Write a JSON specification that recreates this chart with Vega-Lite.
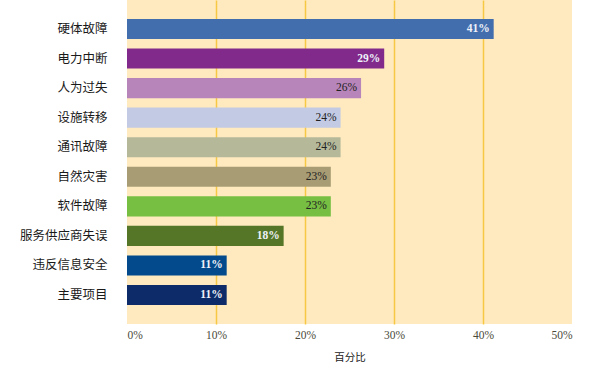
{
  "$schema": "https://vega.github.io/schema/vega-lite/v6.json",
  "width": 445,
  "height": 324,
  "autosize": {"type": "none"},
  "padding": {"left": 127, "top": 0, "right": 33, "bottom": 41},
  "background": "white",
  "config": {
    "view": {"fill": "#FFEABF", "stroke": null},
    "font": "Noto Sans CJK SC"
  },
  "data": {
    "values": [
      {"cause": "硬体故障", "pct": 0.412},
      {"cause": "电力中断", "pct": 0.289},
      {"cause": "人为过失", "pct": 0.263},
      {"cause": "设施转移", "pct": 0.240},
      {"cause": "通讯故障", "pct": 0.240},
      {"cause": "自然灾害", "pct": 0.229},
      {"cause": "软件故障", "pct": 0.229},
      {"cause": "服务供应商失误", "pct": 0.176},
      {"cause": "违反信息安全", "pct": 0.112},
      {"cause": "主要项目", "pct": 0.112}
    ]
  },
  "encoding": {
    "y": {
      "field": "cause",
      "type": "nominal",
      "sort": null,
      "scale": {"paddingInner": 0.32, "paddingOuter": 0.64},
      "axis": {
        "title": null,
        "domain": false,
        "ticks": false,
        "labelPadding": 20,
        "labelFontSize": 12.5,
        "labelFontWeight": "normal",
        "labelColor": "#1a1a1a",
        "labelFont": "Noto Sans CJK SC"
      }
    },
    "x": {
      "field": "pct",
      "type": "quantitative",
      "scale": {"domain": [0, 0.5], "nice": false},
      "axis": {
        "title": "百分比",
        "titleFontSize": 10.5,
        "titleFontWeight": "normal",
        "titleColor": "#1a1a1a",
        "titlePadding": 12,
        "format": ".0%",
        "values": [0, 0.1, 0.2, 0.3, 0.4, 0.5],
        "domain": false,
        "ticks": false,
        "labelPadding": 5,
        "labelFont": "Liberation Serif",
        "labelFontSize": 11.5,
        "labelColor": "#4a4a3a",
        "grid": true,
        "gridWidth": 1.5,
        "gridColor": {
          "condition": {"test": "datum.value == 0 || datum.value == 0.5", "value": "transparent"},
          "value": "#F7C843"
        }
      }
    }
  },
  "layer": [
    {
      "mark": {"type": "bar"},
      "encoding": {
        "color": {
          "field": "cause",
          "type": "nominal",
          "legend": null,
          "scale": {
            "domain": ["硬体故障", "电力中断", "人为过失", "设施转移", "通讯故障", "自然灾害", "软件故障", "服务供应商失误", "违反信息安全", "主要项目"],
            "range": ["#436EAE", "#822A8C", "#B785BA", "#C3CAE4", "#B5B99A", "#A89C74", "#76BF42", "#557627", "#024A8C", "#0D2B69"]
          }
        }
      }
    },
    {
      "transform": [{"filter": "indexof(['硬体故障','电力中断','服务供应商失误','违反信息安全','主要项目'], datum.cause) >= 0"}],
      "mark": {"type": "text", "align": "right", "dx": -4, "font": "Liberation Serif", "fontSize": 11.5, "fontWeight": "bold", "color": "#EEF2F8"},
      "encoding": {
        "text": {"field": "pct", "type": "quantitative", "format": ".0%"}
      }
    },
    {
      "transform": [{"filter": "indexof(['硬体故障','电力中断','服务供应商失误','违反信息安全','主要项目'], datum.cause) < 0"}],
      "mark": {"type": "text", "align": "right", "dx": -4, "font": "Liberation Serif", "fontSize": 11.5, "fontWeight": "normal", "color": "#222222"},
      "encoding": {
        "text": {"field": "pct", "type": "quantitative", "format": ".0%"}
      }
    }
  ]
}
